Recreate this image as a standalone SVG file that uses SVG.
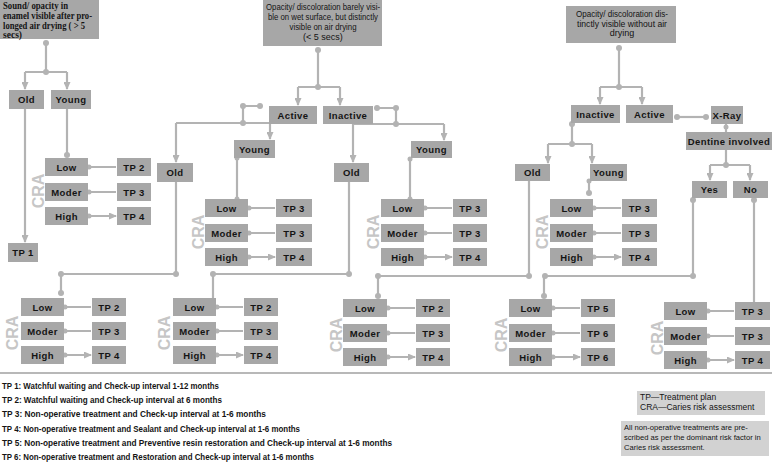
<svg xmlns="http://www.w3.org/2000/svg" width="772" height="464" viewBox="0 0 772 464">
<defs>
<marker id="ah" markerUnits="userSpaceOnUse" markerWidth="8" markerHeight="7" refX="7" refY="3.5" orient="auto">
<path d="M0,0 L8,3.5 L0,7 z" fill="#b3b3b3"/>
</marker>
<style>
.b{fill:#a7a7a7}
.t{font-family:"Liberation Sans",Arial,sans-serif;font-weight:bold;font-size:9.5px;fill:#141414;text-anchor:middle;letter-spacing:0.4px}
.c{stroke:#b3b3b3;stroke-width:2.2;fill:none}
.a{stroke:#b3b3b3;stroke-width:2.2;fill:none;marker-end:url(#ah)}
.d{fill:#b3b3b3}
.cra{font-family:"Liberation Sans",Arial,sans-serif;font-weight:bold;font-size:16px;fill:#c6c6c6;text-anchor:middle}
.q{font-family:"Liberation Sans",Arial,sans-serif;font-size:9px;fill:#141414;text-anchor:middle}
.qs{font-family:"Liberation Serif","Times New Roman",serif;font-weight:bold;font-size:9.5px;fill:#141414}
.lg{font-family:"Liberation Sans",Arial,sans-serif;font-size:9.5px;fill:#141414;font-weight:bold}
.ls{font-family:"Liberation Sans",Arial,sans-serif;font-size:8.5px;fill:#141414}
.ln{font-family:"Liberation Sans",Arial,sans-serif;font-size:7.6px;fill:#141414}
.lb{fill:#d2d2d2}
</style>
</defs>
<rect width="772" height="464" fill="#fff"/>

<!-- connectors -->
<g id="connectors">
<!-- top-left -->
<circle class="d" cx="46" cy="43" r="3"/>
<path class="c" d="M46,43 V72 M25,72 H67"/>
<circle class="d" cx="46" cy="72" r="3"/>
<path class="a" d="M25,72 V89"/>
<path class="a" d="M67,72 V89"/>
<path class="a" d="M25,109 V242"/>
<path class="c" d="M67,109 V155"/>
<circle class="d" cx="67" cy="155" r="3"/>
<path class="a" d="M88,167 H116 M88,192 H116 M88,216 H116"/>
<circle class="d" cx="89" cy="167" r="2.5"/><circle class="d" cx="89" cy="192" r="2.5"/><circle class="d" cx="89" cy="216" r="2.5"/>

<!-- middle -->
<circle class="d" cx="318" cy="50" r="3"/>
<path class="c" d="M318,50 V87 M298,87 H340"/>
<circle class="d" cx="318" cy="87" r="3"/>
<path class="a" d="M298,87 V105"/>
<path class="a" d="M340,87 V105"/>
<circle class="d" cx="243" cy="106" r="3"/><circle class="d" cx="260" cy="106" r="3"/>
<path class="c" d="M243,106 H260 M243,106 V123 M176,123 H270"/>
<circle class="d" cx="243" cy="123" r="3"/>
<path class="a" d="M176,123 V162"/>
<path class="a" d="M270,123 V139"/>
<circle class="d" cx="377" cy="108" r="3"/><circle class="d" cx="396" cy="108" r="3"/>
<path class="c" d="M377,108 H396 V124 M353,124 H444"/>
<circle class="d" cx="396" cy="124" r="3"/>
<path class="a" d="M353,124 V162"/>
<path class="a" d="M444,124 V140"/>
<circle class="d" cx="237" cy="158" r="2.5"/>
<path class="c" d="M237,158 V199"/>
<circle class="d" cx="237" cy="199" r="2.5"/>
<circle class="d" cx="410" cy="159" r="2.5"/>
<path class="c" d="M410,159 V199"/>
<circle class="d" cx="410" cy="199" r="2.5"/>
<path class="a" d="M248,208 H275 M248,233 H275 M248,257 H275"/>
<circle class="d" cx="249" cy="208" r="2.5"/><circle class="d" cx="249" cy="233" r="2.5"/><circle class="d" cx="249" cy="257" r="2.5"/>
<path class="a" d="M424,208 H452 M424,233 H452 M424,257 H452"/>
<circle class="d" cx="425" cy="208" r="2.5"/><circle class="d" cx="425" cy="233" r="2.5"/><circle class="d" cx="425" cy="257" r="2.5"/>
<!-- Old mid-left to B1 -->
<path class="c" d="M176,182 V274 H61 V293"/>
<circle class="d" cx="176" cy="274" r="3"/><circle class="d" cx="61" cy="274" r="3"/><circle class="d" cx="61" cy="293" r="3"/>
<!-- Old mid-right to B2 -->
<path class="c" d="M349,182 V274 H213 V298"/>
<circle class="d" cx="349" cy="274" r="3"/><circle class="d" cx="213" cy="274" r="3"/>

<!-- right -->
<circle class="d" cx="619" cy="48" r="3"/>
<path class="c" d="M619,48 V87 M600,87 H642"/>
<circle class="d" cx="619" cy="87" r="3"/>
<path class="a" d="M600,87 V104"/>
<path class="a" d="M642,87 V104"/>
<circle class="d" cx="677" cy="117" r="3"/><circle class="d" cx="706" cy="117" r="3"/>
<path class="c" d="M677,117 H706"/>
<path class="c" d="M726,124 V132"/>
<circle class="d" cx="726" cy="127" r="2.5"/>
<path class="c" d="M726,150 V165 M710,165 H750"/>
<circle class="d" cx="726" cy="165" r="3"/>
<path class="a" d="M710,165 V180"/>
<path class="a" d="M750,165 V180"/>
<circle class="d" cx="572" cy="124" r="3"/>
<path class="c" d="M572,124 V144 M548,144 H592"/>
<circle class="d" cx="572" cy="144" r="3"/>
<path class="a" d="M548,144 V163"/>
<path class="a" d="M592,144 V163"/>
<circle class="d" cx="589" cy="181" r="2.5"/>
<path class="c" d="M589,181 V193"/>
<circle class="d" cx="589" cy="193" r="3"/>
<path class="a" d="M593,208 H621 M593,233 H621 M593,257 H621"/>
<circle class="d" cx="594" cy="208" r="2.5"/><circle class="d" cx="594" cy="233" r="2.5"/><circle class="d" cx="594" cy="257" r="2.5"/>
<!-- Old right to B3 -->
<path class="c" d="M529,181 V276 H378 V296"/>
<circle class="d" cx="529" cy="276" r="3"/><circle class="d" cx="378" cy="276" r="3"/><circle class="d" cx="378" cy="296" r="3"/>
<!-- Yes to B4 -->
<circle class="d" cx="693" cy="200" r="3"/>
<path class="c" d="M693,198 V276 H544 V296"/>
<circle class="d" cx="693" cy="276" r="3"/><circle class="d" cx="545" cy="276" r="3"/><circle class="d" cx="544" cy="296" r="3"/>
<!-- No to B5 TP3 -->
<circle class="d" cx="754" cy="200" r="3"/>
<path class="c" d="M754,198 V302"/>

<!-- bottom rows arrows -->
<path class="a" d="M64,307 H91 M64,331 H91 M64,355 H91"/>
<circle class="d" cx="65" cy="307" r="2.5"/><circle class="d" cx="65" cy="331" r="2.5"/><circle class="d" cx="65" cy="355" r="2.5"/>
<path class="a" d="M216,307 H243 M216,331 H243 M216,355 H243"/>
<circle class="d" cx="217" cy="307" r="2.5"/><circle class="d" cx="217" cy="331" r="2.5"/><circle class="d" cx="217" cy="355" r="2.5"/>
<path class="a" d="M387,308 H415 M387,333 H415 M387,357 H415"/>
<circle class="d" cx="388" cy="308" r="2.5"/><circle class="d" cx="388" cy="333" r="2.5"/><circle class="d" cx="388" cy="357" r="2.5"/>
<path class="a" d="M552,308 H580 M552,333 H580 M552,357 H580"/>
<circle class="d" cx="553" cy="308" r="2.5"/><circle class="d" cx="553" cy="333" r="2.5"/><circle class="d" cx="553" cy="357" r="2.5"/>
<path class="a" d="M707,311 H734 M707,336 H734 M707,360 H734"/>
<circle class="d" cx="708" cy="311" r="2.5"/><circle class="d" cx="708" cy="336" r="2.5"/><circle class="d" cx="708" cy="360" r="2.5"/>

<!-- separator -->
<path d="M0,373 H772" stroke="#b8b8b8" stroke-width="2"/>
</g>

<!-- question nodes -->
<g id="q-sound">
<rect class="b" x="0" y="0" width="99" height="39"/>
<text class="qs" x="3" y="9" textLength="65" lengthAdjust="spacingAndGlyphs">Sound/ opacity in</text>
<text class="qs" x="3" y="19" textLength="89" lengthAdjust="spacingAndGlyphs">enamel visible after pro-</text>
<text class="qs" x="3" y="29" textLength="82" lengthAdjust="spacingAndGlyphs">longed air drying ( &gt; 5</text>
<text class="qs" x="3" y="38">secs)</text>
</g>
<g id="q-barely">
<rect class="b" x="263" y="0" width="119" height="46"/>
<text class="q" x="323" y="10" textLength="114" lengthAdjust="spacingAndGlyphs">Opacity/ discoloration barely visi-</text>
<text class="q" x="323" y="20" textLength="110" lengthAdjust="spacingAndGlyphs">ble on wet surface, but distinctly</text>
<text class="q" x="323" y="30" textLength="67" lengthAdjust="spacingAndGlyphs">visible on air drying</text>
<text class="q" x="323" y="40">(&lt; 5 secs)</text>
</g>
<g id="q-distinct">
<rect class="b" x="566" y="6" width="110" height="37"/>
<text class="q" x="622" y="17" textLength="92" lengthAdjust="spacingAndGlyphs">Opacity/ discoloration dis-</text>
<text class="q" x="622" y="27" textLength="90" lengthAdjust="spacingAndGlyphs">tinctly visible without air</text>
<text class="q" x="622" y="36">drying</text>
</g>

<!-- branch nodes -->
<g id="n-old-1"><rect class="b" x="9" y="90" width="35" height="19"/><text class="t" x="26.5" y="103">Old</text></g>
<g id="n-young-1"><rect class="b" x="51" y="90" width="40" height="19"/><text class="t" x="71" y="103">Young</text></g>
<g id="n-tp1"><rect class="b" x="8" y="243" width="30" height="19"/><text class="t" x="23" y="256">TP 1</text></g>
<g id="n-active-2"><rect class="b" x="269" y="106" width="48" height="18"/><text class="t" x="293" y="118.5">Active</text></g>
<g id="n-inactive-2"><rect class="b" x="323" y="106" width="50" height="18"/><text class="t" x="348" y="118.5">Inactive</text></g>
<g id="n-old-2a"><rect class="b" x="157" y="163" width="36" height="19"/><text class="t" x="175" y="176">Old</text></g>
<g id="n-young-2a"><rect class="b" x="234" y="140" width="41" height="18"/><text class="t" x="254.5" y="152.5">Young</text></g>
<g id="n-old-2b"><rect class="b" x="334" y="163" width="35" height="19"/><text class="t" x="351.5" y="176">Old</text></g>
<g id="n-young-2b"><rect class="b" x="411" y="141" width="41" height="17"/><text class="t" x="431.5" y="153">Young</text></g>
<g id="n-inactive-3"><rect class="b" x="571" y="105" width="49" height="18"/><text class="t" x="595.5" y="117.5">Inactive</text></g>
<g id="n-active-3"><rect class="b" x="626" y="105" width="47" height="18"/><text class="t" x="649.5" y="117.5">Active</text></g>
<g id="n-xray"><rect class="b" x="711" y="106" width="32" height="18"/><text class="t" x="727" y="118.5">X-Ray</text></g>
<g id="n-dentine"><rect class="b" x="686" y="132" width="86" height="18"/><text class="t" x="729" y="144.5">Dentine involved</text></g>
<g id="n-yes"><rect class="b" x="692" y="181" width="35" height="17"/><text class="t" x="709.5" y="193">Yes</text></g>
<g id="n-no"><rect class="b" x="733" y="181" width="35" height="17"/><text class="t" x="750.5" y="193">No</text></g>
<g id="n-old-3"><rect class="b" x="515" y="164" width="35" height="17"/><text class="t" x="532.5" y="176">Old</text></g>
<g id="n-young-3"><rect class="b" x="590" y="164" width="37" height="17"/><text class="t" x="608.5" y="176">Young</text></g>

<!-- CRA group TL -->
<g id="cra-tl">
<text class="cra" transform="translate(44,191) rotate(-90)">CRA</text>
<rect class="b" x="45" y="158" width="43" height="18"/><text class="t" x="66.5" y="170.5">Low</text>
<rect class="b" x="45" y="183" width="43" height="18"/><text class="t" x="66.5" y="195.5">Moder</text>
<rect class="b" x="45" y="207" width="43" height="18"/><text class="t" x="66.5" y="219.5">High</text>
<rect class="b" x="117" y="158" width="34" height="18"/><text class="t" x="134" y="170.5">TP 2</text>
<rect class="b" x="117" y="183" width="34" height="18"/><text class="t" x="134" y="195.5">TP 3</text>
<rect class="b" x="117" y="207" width="34" height="18"/><text class="t" x="134" y="219.5">TP 4</text>
</g>
<!-- CRA group M1 -->
<g id="cra-m1">
<text class="cra" transform="translate(204,232) rotate(-90)">CRA</text>
<rect class="b" x="205" y="199" width="43" height="18"/><text class="t" x="226.5" y="211.5">Low</text>
<rect class="b" x="205" y="224" width="43" height="18"/><text class="t" x="226.5" y="236.5">Moder</text>
<rect class="b" x="205" y="248" width="43" height="18"/><text class="t" x="226.5" y="260.5">High</text>
<rect class="b" x="276" y="199" width="36" height="18"/><text class="t" x="294" y="211.5">TP 3</text>
<rect class="b" x="276" y="224" width="36" height="18"/><text class="t" x="294" y="236.5">TP 3</text>
<rect class="b" x="276" y="248" width="36" height="18"/><text class="t" x="294" y="260.5">TP 4</text>
</g>
<!-- CRA group M2 -->
<g id="cra-m2">
<text class="cra" transform="translate(379,232) rotate(-90)">CRA</text>
<rect class="b" x="381" y="199" width="43" height="18"/><text class="t" x="402.5" y="211.5">Low</text>
<rect class="b" x="381" y="224" width="43" height="18"/><text class="t" x="402.5" y="236.5">Moder</text>
<rect class="b" x="381" y="248" width="43" height="18"/><text class="t" x="402.5" y="260.5">High</text>
<rect class="b" x="453" y="199" width="34" height="18"/><text class="t" x="470" y="211.5">TP 3</text>
<rect class="b" x="453" y="224" width="34" height="18"/><text class="t" x="470" y="236.5">TP 3</text>
<rect class="b" x="453" y="248" width="34" height="18"/><text class="t" x="470" y="260.5">TP 4</text>
</g>
<!-- CRA group R -->
<g id="cra-r">
<text class="cra" transform="translate(548,232) rotate(-90)">CRA</text>
<rect class="b" x="550" y="199" width="43" height="18"/><text class="t" x="571.5" y="211.5">Low</text>
<rect class="b" x="550" y="224" width="43" height="18"/><text class="t" x="571.5" y="236.5">Moder</text>
<rect class="b" x="550" y="248" width="43" height="18"/><text class="t" x="571.5" y="260.5">High</text>
<rect class="b" x="622" y="199" width="35" height="18"/><text class="t" x="639.5" y="211.5">TP 3</text>
<rect class="b" x="622" y="224" width="35" height="18"/><text class="t" x="639.5" y="236.5">TP 3</text>
<rect class="b" x="622" y="248" width="35" height="18"/><text class="t" x="639.5" y="260.5">TP 4</text>
</g>
<!-- bottom groups -->
<g id="cra-b1">
<text class="cra" transform="translate(18,333) rotate(-90)">CRA</text>
<rect class="b" x="21" y="298" width="43" height="18"/><text class="t" x="42.5" y="310.5">Low</text>
<rect class="b" x="21" y="322" width="43" height="18"/><text class="t" x="42.5" y="334.5">Moder</text>
<rect class="b" x="21" y="346" width="43" height="18"/><text class="t" x="42.5" y="358.5">High</text>
<rect class="b" x="92" y="298" width="34" height="18"/><text class="t" x="109" y="310.5">TP 2</text>
<rect class="b" x="92" y="322" width="34" height="18"/><text class="t" x="109" y="334.5">TP 3</text>
<rect class="b" x="92" y="346" width="34" height="18"/><text class="t" x="109" y="358.5">TP 4</text>
</g>
<g id="cra-b2">
<text class="cra" transform="translate(170,333) rotate(-90)">CRA</text>
<rect class="b" x="173" y="298" width="43" height="18"/><text class="t" x="194.5" y="310.5">Low</text>
<rect class="b" x="173" y="322" width="43" height="18"/><text class="t" x="194.5" y="334.5">Moder</text>
<rect class="b" x="173" y="346" width="43" height="18"/><text class="t" x="194.5" y="358.5">High</text>
<rect class="b" x="244" y="298" width="34" height="18"/><text class="t" x="261" y="310.5">TP 2</text>
<rect class="b" x="244" y="322" width="34" height="18"/><text class="t" x="261" y="334.5">TP 3</text>
<rect class="b" x="244" y="346" width="34" height="18"/><text class="t" x="261" y="358.5">TP 4</text>
</g>
<g id="cra-b3">
<text class="cra" transform="translate(342,335) rotate(-90)">CRA</text>
<rect class="b" x="343" y="299" width="44" height="18"/><text class="t" x="365" y="311.5">Low</text>
<rect class="b" x="343" y="324" width="44" height="18"/><text class="t" x="365" y="336.5">Moder</text>
<rect class="b" x="343" y="348" width="44" height="18"/><text class="t" x="365" y="360.5">High</text>
<rect class="b" x="416" y="299" width="34" height="18"/><text class="t" x="433" y="311.5">TP 2</text>
<rect class="b" x="416" y="324" width="34" height="18"/><text class="t" x="433" y="336.5">TP 3</text>
<rect class="b" x="416" y="348" width="34" height="18"/><text class="t" x="433" y="360.5">TP 4</text>
</g>
<g id="cra-b4">
<text class="cra" transform="translate(507,335) rotate(-90)">CRA</text>
<rect class="b" x="509" y="299" width="43" height="18"/><text class="t" x="530.5" y="311.5">Low</text>
<rect class="b" x="509" y="324" width="43" height="18"/><text class="t" x="530.5" y="336.5">Moder</text>
<rect class="b" x="509" y="348" width="43" height="18"/><text class="t" x="530.5" y="360.5">High</text>
<rect class="b" x="581" y="299" width="34" height="18"/><text class="t" x="598" y="311.5">TP 5</text>
<rect class="b" x="581" y="324" width="34" height="18"/><text class="t" x="598" y="336.5">TP 6</text>
<rect class="b" x="581" y="348" width="34" height="18"/><text class="t" x="598" y="360.5">TP 6</text>
</g>
<g id="cra-b5">
<text class="cra" transform="translate(663,338) rotate(-90)">CRA</text>
<rect class="b" x="664" y="302" width="43" height="18"/><text class="t" x="685.5" y="314.5">Low</text>
<rect class="b" x="664" y="327" width="43" height="18"/><text class="t" x="685.5" y="339.5">Moder</text>
<rect class="b" x="664" y="351" width="43" height="18"/><text class="t" x="685.5" y="363.5">High</text>
<rect class="b" x="735" y="302" width="35" height="18"/><text class="t" x="752.5" y="314.5">TP 3</text>
<rect class="b" x="735" y="327" width="35" height="18"/><text class="t" x="752.5" y="339.5">TP 3</text>
<rect class="b" x="735" y="351" width="35" height="18"/><text class="t" x="752.5" y="363.5">TP 4</text>
</g>

<!-- legend -->
<g id="legend-tp">
<text class="lg" x="2" y="389" textLength="217" lengthAdjust="spacingAndGlyphs">TP 1: Watchful waiting and Check-up interval 1-12 months</text>
<text class="lg" x="2" y="403" textLength="220" lengthAdjust="spacingAndGlyphs">TP 2: Watchful waiting and Check-up interval at 6 months</text>
<text class="lg" x="2" y="417" textLength="264" lengthAdjust="spacingAndGlyphs">TP 3: Non-operative treatment and Check-up interval at 1-6 months</text>
<text class="lg" x="2" y="431.5" textLength="298" lengthAdjust="spacingAndGlyphs">TP 4: Non-operative treatment and Sealant and Check-up interval at 1-6 months</text>
<text class="lg" x="2" y="445.5" textLength="390" lengthAdjust="spacingAndGlyphs">TP 5: Non-operative treatment and Preventive resin restoration and Check-up interval at 1-6 months</text>
<text class="lg" x="2" y="459.5" textLength="312" lengthAdjust="spacingAndGlyphs">TP 6: Non-operative treatment and Restoration and Check-up interval at 1-6 months</text>
</g>
<g id="legend-abbr">
<rect class="lb" x="637" y="391" width="128" height="24"/>
<text class="ls" x="640" y="400">TP—Treatment plan</text>
<text class="ls" x="640" y="410">CRA—Caries risk assessment</text>
</g>
<g id="legend-note">
<rect class="lb" x="621" y="421" width="148" height="35"/>
<text class="ln" x="624" y="430">All non-operative treatments  are pre-</text>
<text class="ln" x="624" y="440">scribed as per the dominant risk factor in</text>
<text class="ln" x="624" y="450">Caries risk assessment.</text>
</g>
</svg>
